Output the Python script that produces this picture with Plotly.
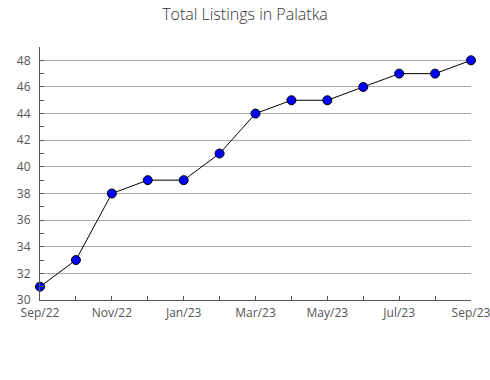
import plotly.graph_objects as go

months = ["Sep/22", "Oct/22", "Nov/22", "Dec/22", "Jan/23", "Feb/23", "Mar/23",
          "Apr/23", "May/23", "Jun/23", "Jul/23", "Aug/23", "Sep/23"]
listings = [31, 33, 38, 39, 39, 41, 44, 45, 45, 46, 47, 47, 48]
tick_labels = [m if i % 2 == 0 else "" for i, m in enumerate(months)]

x = list(range(len(months)))

fig = go.Figure()
fig.add_trace(go.Scatter(
    x=x, y=listings, mode="lines+markers",
    line=dict(color="black", width=1),
    marker=dict(color="#0000ff", size=9, line=dict(color="black", width=1)),
    cliponaxis=False, hoverinfo="skip",
))

fig.update_layout(
    width=490, height=380,
    margin=dict(l=40, r=19, t=47, b=80, autoexpand=False),
    paper_bgcolor="white", plot_bgcolor="white",
    showlegend=False,
    title=dict(text="Total Listings in Palatka", x=0.5, xanchor="center",
               y=1 - 14 / 380, yanchor="middle",
               font=dict(family="Open Sans", size=16, color="#333", weight=300)),
    font=dict(family="Open Sans", size=12, color="#555"),
)
fig.update_xaxes(
    range=[0, 12], tickvals=x, ticktext=tick_labels, automargin=False,
    ticklabeloverflow="allow", ticklabelstandoff=2,
    showline=True, linecolor="#555", linewidth=1,
    ticks="inside", ticklen=4, tickcolor="#555",
    showgrid=False, zeroline=False, tickangle=0,
)
fig.update_yaxes(
    range=[30, 49], tickvals=list(range(30, 49, 2)), automargin=False,
    ticklabeloverflow="allow", ticklabelstandoff=6,
    showline=True, linecolor="#555", linewidth=1,
    ticks="inside", ticklen=4, tickcolor="#555",
    showgrid=True, gridcolor="#aaaaaa", gridwidth=1, zeroline=False,
    minor=dict(tickvals=list(range(31, 49, 2)), ticks="inside", ticklen=4,
               tickcolor="#555", showgrid=False),
)

fig.write_html("out.html")
